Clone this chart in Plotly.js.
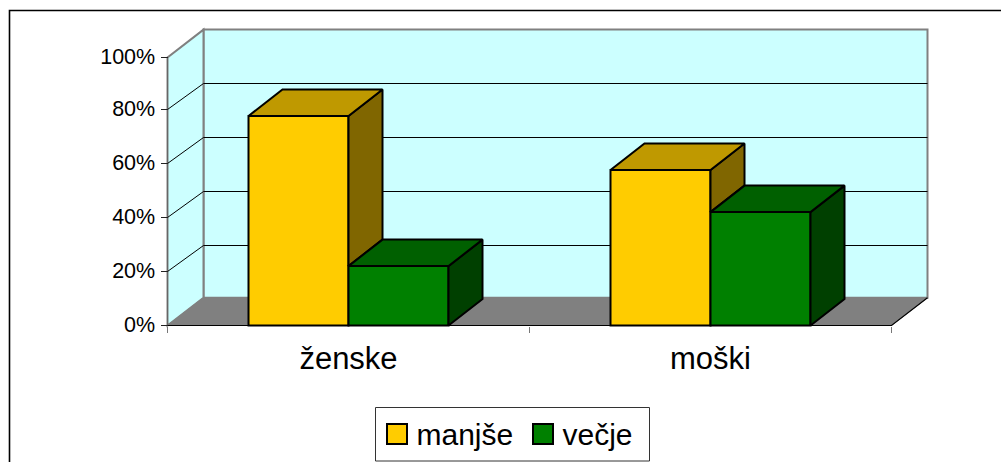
<!DOCTYPE html>
<html><head><meta charset="utf-8">
<script src="https://cdn.plot.ly/plotly-3.0.1.min.js"></script>
<style>
html,body{margin:0;padding:0;background:#fff;overflow:hidden}
#c{width:1001px;height:462px}
</style></head><body><div id="c"></div>
<script>
const categories = ['ženske', 'moški'];
const manjse = [77.6, 57.6];
const vecje = [22, 42];
const yTicks = [0, 20, 40, 60, 80, 99.3];
const yLabels = ['0%', '20%', '40%', '60%', '80%', '100%'];
const catPos = [0.5, 1.5];
const catEdges = [0, 1, 2];

const pxX = 362, pxY = 2.7;
const yTop = yTicks[5];
const wallDX = 36 / pxX, wallDY = 27.8 / pxY, gridDY = 26 / pxY;
const barDX = 34 / pxX, barDY = 26.5 / pxY;
const barW = 100 / pxX;
const L = 160, R = 935, T = 24, B = 332, X0 = 167.5, Y0 = 325.5;
const W = 1001, H = 462;

function poly(pts, fill, lc, lw) {
  return {type: 'scatter', mode: 'lines', x: pts.map(p => p[0]).concat(pts[0][0]),
    y: pts.map(p => p[1]).concat(pts[0][1]), fill: 'toself', fillcolor: fill,
    line: {color: lc, width: lw}, showlegend: false, hoverinfo: 'skip', cliponaxis: false};
}
const faces = [];
function box(x0, v, floorV, topC, sideC) {
  const x1 = x0 + barW;
  faces.push(poly([[x1, v], [x1 + barDX, v + barDY], [x1 + barDX, floorV + barDY], [x1, floorV]], sideC, '#000', 2));
  faces.push(poly([[x0, v], [x0 + barDX, v + barDY], [x1 + barDX, v + barDY], [x1, v]], topC, '#000', 2));
}
catPos.forEach((c, i) => {
  box(c - barW, manjse[i], vecje[i], '#BF9900', '#806600');
  box(c, vecje[i], 0, '#006000', '#004000');
});

const shapes = [];
function path(pts, close, fill, lc, lw) {
  shapes.push({type: 'path', layer: 'below', xref: 'x', yref: 'y',
    path: 'M' + pts.map(p => p[0] + ',' + p[1]).join('L') + (close ? 'Z' : ''),
    fillcolor: fill || 'rgba(0,0,0,0)', line: {color: lc, width: lw}});
}
const pxToPaperX = p => (p - L) / (R - L), pxToPaperY = p => (B - p) / (B - T);
// back wall, side wall, floor
path([[wallDX, wallDY], [2 + wallDX, wallDY], [2 + wallDX, yTop + wallDY], [wallDX, yTop + wallDY]], true, '#CCFFFF', '#808080', 2);
path([[0, 0], [wallDX, wallDY], [wallDX, yTop + wallDY], [0, yTop]], true, '#CCFFFF', '#808080', 2);
path([[0, 0], [wallDX, wallDY], [2 + wallDX, wallDY], [2, 0]], true, '#808080', '#808080', 1);
yTicks.slice(1, 5).forEach(v => path([[0, v], [wallDX, v + gridDY], [2 + wallDX, v + gridDY]], false, null, '#000', 1));
path([[0, 0], [2, 0], [2 + wallDX, wallDY]], false, null, '#000', 1.2);
path([[0, 0], [0, yTop]], false, null, '#666', 1);
// outer frame
shapes.push({type: 'path', xref: 'paper', yref: 'paper', layer: 'below',
  path: `M${pxToPaperX(1010)},${pxToPaperY(10.5)}L${pxToPaperX(9.5)},${pxToPaperY(10.5)}L${pxToPaperX(9.5)},${pxToPaperY(470)}`,
  line: {color: '#000', width: 1.6}});
// legend frame
shapes.push({type: 'rect', xref: 'paper', yref: 'paper', layer: 'below',
  x0: pxToPaperX(375.5), x1: pxToPaperX(649.5), y0: pxToPaperY(407.5), y1: pxToPaperY(461),
  fillcolor: '#fff', line: {color: '#333', width: 1}});

const bars = [
  {type: 'bar', name: 'manjše', x: catPos, y: manjse, marker: {color: '#FFCC00', line: {color: '#000', width: 2}}, hoverinfo: 'skip'},
  {type: 'bar', name: 'večje', x: catPos, y: vecje, marker: {color: '#008000', line: {color: '#000', width: 2}}, hoverinfo: 'skip'}
];
const font = 'Liberation Sans, Arial, sans-serif';
const layout = {
  width: W, height: H, paper_bgcolor: '#fff', plot_bgcolor: 'rgba(0,0,0,0)',
  margin: {l: L, r: W - R, t: T, b: H - B, pad: 0, autoexpand: false},
  barmode: 'group', bargap: 1 - 2 * barW, bargroupgap: 0, shapes,
  xaxis: {range: [(L - X0) / pxX, (R - X0) / pxX], anchor: 'free', position: (B - Y0) / (B - T),
    tickmode: 'array', tickvals: catPos, ticktext: categories, ticks: '', showgrid: false, zeroline: false, showline: false,
    tickfont: {family: font, size: 31, color: '#000'}, ticklabelstandoff: 11,
    minor: {tickmode: 'array', tickvals: catEdges, ticks: 'outside', ticklen: 6, tickwidth: 1.5, tickcolor: '#777', showgrid: false}},
  yaxis: {range: [(Y0 - B) / pxY, (Y0 - T) / pxY], anchor: 'free', position: (X0 - L) / (R - L),
    tickmode: 'array', tickvals: yTicks, ticktext: yLabels, ticks: 'outside', ticklen: 7, tickwidth: 1, tickcolor: '#222',
    showgrid: false, zeroline: false, showline: false, tickfont: {family: font, size: 21.5, color: '#000'}, ticklabelstandoff: 1, ticklabelshift: -1},
  legend: {orientation: 'h', xref: 'paper', yref: 'paper', xanchor: 'left', yanchor: 'top',
    x: pxToPaperX(376.5), y: pxToPaperY(407), bgcolor: 'rgba(0,0,0,0)', borderwidth: 0, entrywidth: 101, entrywidthmode: 'pixels',
    font: {family: font, size: 30, color: '#000'}, itemclick: false, itemdoubleclick: false},
  showlegend: true
};
Plotly.newPlot('c', bars.concat(faces), layout, {displayModeBar: false, staticPlot: true}).then(gd => {
  gd.querySelectorAll('.legend .legendpoints path').forEach(p => p.setAttribute('d', 'M10.5,11H-9.5V-9H10.5Z'));
});
</script></body></html>
